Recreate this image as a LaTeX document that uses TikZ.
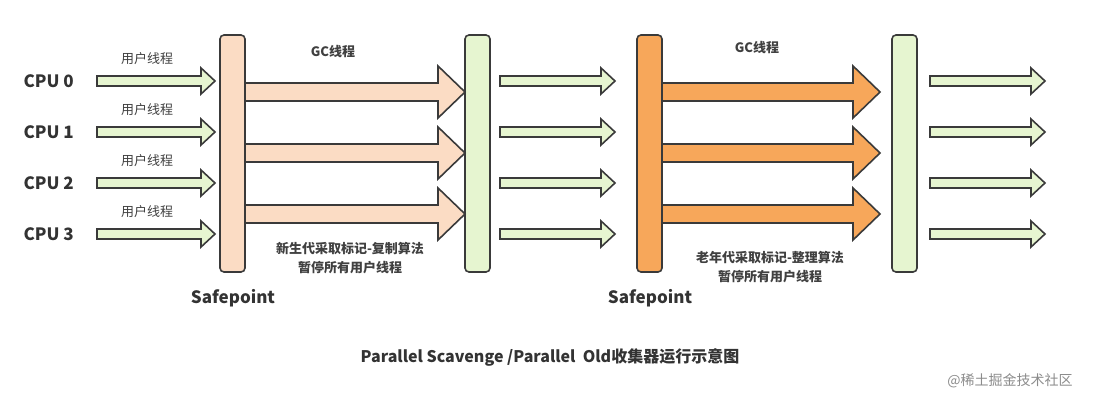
\documentclass[tikz,border=0pt]{standalone}
\usepackage{fontspec}
\setmainfont{Noto Sans CJK SC}
\definecolor{peach}{HTML}{FBDCC4}
\definecolor{lgreen}{HTML}{E6F5D0}
\definecolor{orng}{HTML}{F7A75A}
\definecolor{edge}{HTML}{3A3A3A}
\tikzset{
  barbox/.style={draw=edge,line width=1.6pt,rounded corners=4pt},
  arr/.style={draw=edge,line width=1.6pt,line join=miter},
  lbl/.style={font=\fontsize{13}{14}\selectfont,text=black!75},
  cpu/.style={font=\bfseries\fontsize{17}{18}\selectfont,text=black!80},
}
% #1 x0, #2 head start, #3 tip, #4 y, #5 half shaft, #6 half head, #7 fill
\newcommand\myarrow[7]{\path[arr,fill=#7] (#1,#4-#5) -- (#2,#4-#5) -- (#2,#4-#6) -- (#3,#4) -- (#2,#4+#6) -- (#2,#4+#5) -- (#1,#4+#5) -- cycle;}
\begin{document}
\begin{tikzpicture}[x=1pt,y=-1pt]
\useasboundingbox[fill=white] (0,0) rectangle (1100,404);
% bars
\node[barbox,fill=peach,minimum width=25pt,minimum height=237pt,inner sep=0] (b1) at (232.5,153.5) {};
\node[barbox,fill=lgreen,minimum width=25pt,minimum height=237pt,inner sep=0] (b2) at (477.5,153.5) {};
\node[barbox,fill=orng,minimum width=25pt,minimum height=237pt,inner sep=0] (b3) at (649.5,153.5) {};
\node[barbox,fill=lgreen,minimum width=25pt,minimum height=237pt,inner sep=0] (b4) at (904.5,153.5) {};
% CPU rows
\foreach \y/\n in {81/0,132/1,183/2,234/3}{
  \node[cpu,anchor=west] (cpu\n) at (20,\y) {CPU \n};
  \node[lbl] (u\n) at (147,\y-22) {用户线程};
  \myarrow{97}{201}{215}{\y}{5}{13}{lgreen}
  \myarrow{500}{601}{615}{\y}{5}{13}{lgreen}
  \myarrow{930}{1031}{1045}{\y}{5}{13}{lgreen}
}
% GC arrows
\foreach \y in {92,153,214}{
  \myarrow{245}{438}{465}{\y}{9}{26}{peach}
  \myarrow{662}{853}{880}{\y}{9}{26}{orng}
}
\node[lbl,font=\bfseries\fontsize{13}{14}\selectfont] (gc1) at (333,52) {GC线程};
\node[lbl,font=\bfseries\fontsize{13}{14}\selectfont] (gc2) at (757,48) {GC线程};
\node[lbl,align=center,font=\bfseries\fontsize{13}{19}\selectfont] (t1) at (350,258) {新生代采取标记-复制算法\\暂停所有用户线程};
\node[lbl,align=center,font=\bfseries\fontsize{13}{19}\selectfont] (t2) at (770,267) {老年代采取标记-整理算法\\暂停所有用户线程};
\node[cpu] (s1) at (233,298) {Safepoint};
\node[cpu] (s2) at (650,298) {Safepoint};
\node[cpu,font=\bfseries\fontsize{16}{17}\selectfont] (title) at (550,357) {Parallel Scavenge /Parallel\ \ Old收集器运行示意图};
\node[text=black!45,font=\fontsize{14}{15}\selectfont] (wm) at (1010,381) {@稀土掘金技术社区};
\end{tikzpicture}
\end{document}
